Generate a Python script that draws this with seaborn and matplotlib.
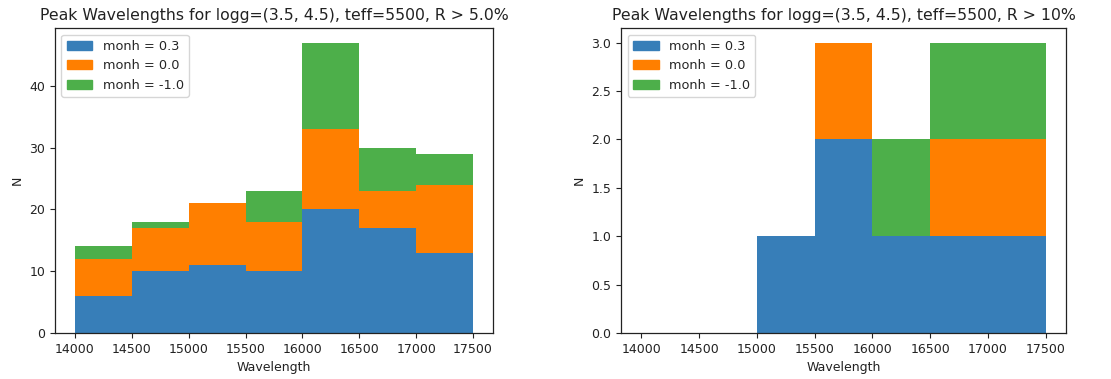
import numpy as np
import pandas as pd
import matplotlib
matplotlib.use("Agg")
import matplotlib.pyplot as plt
import seaborn as sns

bin_edges = [14000, 14500, 15000, 15500, 16000, 16500, 17000, 17500]
series_labels = ["monh = 0.3", "monh = 0.0", "monh = -1.0"]
colors = ["#377eb8", "#ff7f00", "#4daf4a"]

# counts per bin (left panel, R > 5.0%)
left_03 = [6, 10, 11, 10, 20, 17, 13]
left_00 = [6, 7, 10, 8, 13, 6, 11]
left_m10 = [2, 1, 0, 5, 14, 7, 5]

# counts per bin (right panel, R > 10%)
right_03 = [0, 0, 1, 2, 1, 1, 1]
right_00 = [0, 0, 0, 1, 0, 1, 1]
right_m10 = [0, 0, 0, 0, 1, 1, 1]

titles = ["Peak Wavelengths for logg=(3.5, 4.5), teff=5500, R > 5.0%",
          "Peak Wavelengths for logg=(3.5, 4.5), teff=5500, R > 10%"]


def make_df(series):
    centers = [(a + b) / 2 for a, b in zip(bin_edges[:-1], bin_edges[1:])]
    rows = []
    for lab, vals in zip(series_labels, series):
        for c, v in zip(centers, vals):
            rows.append({"Wavelength": c, "monh": lab, "N": v})
    return pd.DataFrame(rows)


sns.set_style("ticks")
plt.rcParams["font.family"] = ["DejaVu Sans"]

fig = plt.figure(figsize=(11.11, 3.79), dpi=100)
ax1 = fig.add_axes([0.0495, 0.1214, 0.3942, 0.8046])
ax2 = fig.add_axes([0.559, 0.1214, 0.4005, 0.8046])

palette = dict(zip(series_labels, colors))
for ax, series, title in [(ax1, [left_03, left_00, left_m10], titles[0]),
                          (ax2, [right_03, right_00, right_m10], titles[1])]:
    df = make_df(series)
    sns.histplot(data=df, x="Wavelength", hue="monh", weights="N",
                 bins=bin_edges, multiple="stack", element="step",
                 hue_order=series_labels[::-1], palette=palette,
                 alpha=1, linewidth=0, ax=ax, legend=False)
    handles = [matplotlib.patches.Patch(color=c, label=l)
               for l, c in zip(series_labels, colors)]
    ax.legend(handles=handles, loc="upper left", fontsize=9.3)
    ax.set_title(title, fontsize=11.3, color="#222222")
    ax.set_xlabel("Wavelength", fontsize=9, color="#222222")
    ax.set_ylabel("N", fontsize=9, color="#222222")
    ax.set_xticks(bin_edges)
    ax.tick_params(labelsize=9, colors="#222222")
    ax.set_xlim(14000 - 175, 17500 + 175)
    for s in ax.spines.values():
        s.set_visible(True)
        s.set_color("#222222")
        s.set_linewidth(0.9)

fig.savefig("out.png", dpi=100)
